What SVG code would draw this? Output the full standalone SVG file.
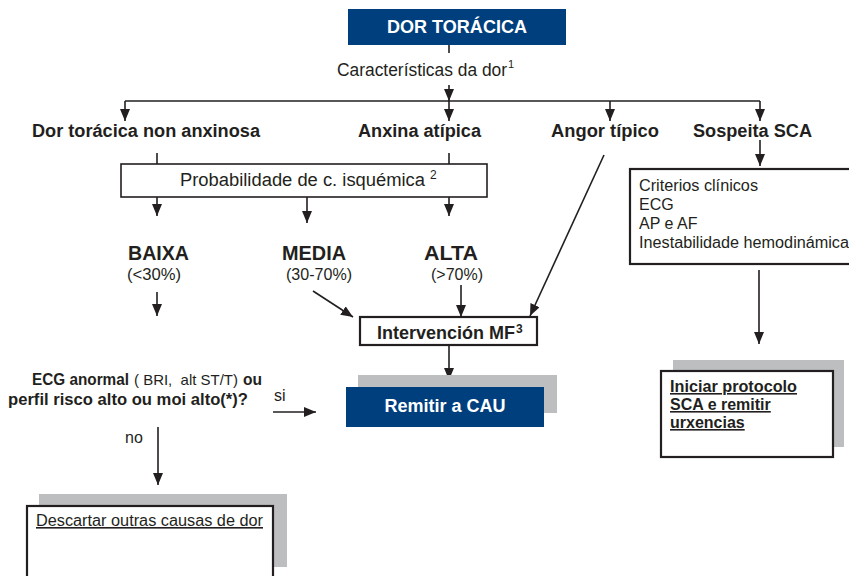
<svg xmlns="http://www.w3.org/2000/svg" width="849" height="576" viewBox="0 0 849 576">
<defs>
<style>
text{font-family:"Liberation Sans",Arial,sans-serif;fill:#231f20;white-space:pre}
.b{font-weight:bold}
.w{fill:#ffffff}
.c{stroke:#231f20;stroke-width:1.6;fill:none}
.box{fill:#ffffff;stroke:#231f20;stroke-width:1.6}
.tbox{fill:#ffffff;stroke:#231f20;stroke-width:2.2}
.blue{fill:#003f7e}
.shadow{fill:#bcbec0}
.u{text-decoration:underline}
</style>
<marker id="a" markerWidth="12" markerHeight="10" refX="12" refY="5" orient="auto" markerUnits="userSpaceOnUse" viewBox="0 0 12 10">
<path d="M0,0 L12,5 L0,10 Z" fill="#231f20"/>
</marker>
</defs>
<rect width="849" height="576" fill="#ffffff"/>

<g id="connectors">
<line class="c" x1="449" y1="45" x2="449" y2="53"/>
<line class="c" x1="449" y1="85" x2="449" y2="101" marker-end="url(#a)"/>
<line class="c" x1="125" y1="101" x2="760" y2="101"/>
<line class="c" x1="125" y1="101" x2="125" y2="121" marker-end="url(#a)"/>
<line class="c" x1="449" y1="101" x2="449" y2="121" marker-end="url(#a)"/>
<line class="c" x1="610" y1="101" x2="610" y2="121" marker-end="url(#a)"/>
<line class="c" x1="760" y1="101" x2="760" y2="121" marker-end="url(#a)"/>
<line class="c" x1="157" y1="153" x2="157" y2="164"/>
<line class="c" x1="449" y1="153" x2="449" y2="164"/>
<line class="c" x1="157" y1="197" x2="157" y2="216" marker-end="url(#a)"/>
<line class="c" x1="307" y1="197" x2="307" y2="223" marker-end="url(#a)"/>
<line class="c" x1="449" y1="197" x2="449" y2="216" marker-end="url(#a)"/>
<line class="c" x1="157" y1="292" x2="157" y2="316" marker-end="url(#a)"/>
<line class="c" x1="313" y1="291" x2="353" y2="317" marker-end="url(#a)"/>
<line class="c" x1="461" y1="285" x2="461" y2="317" marker-end="url(#a)"/>
<line class="c" x1="604" y1="155" x2="530" y2="316" marker-end="url(#a)"/>
<line class="c" x1="449" y1="345" x2="449" y2="380" marker-end="url(#a)"/>
<line class="c" x1="273" y1="412" x2="316" y2="412" marker-end="url(#a)"/>
<line class="c" x1="158" y1="427" x2="158" y2="485" marker-end="url(#a)"/>
<line class="c" x1="760" y1="140" x2="760" y2="166" marker-end="url(#a)"/>
<line class="c" x1="759" y1="270" x2="759" y2="344" marker-end="url(#a)"/>
</g>

<g id="n-dor">
<rect class="blue" x="348" y="9" width="218" height="36"/>
<text class="b w" x="457" y="33" font-size="18" text-anchor="middle" textLength="140" lengthAdjust="spacingAndGlyphs">DOR TORÁCICA</text>
</g>

<g id="n-caract">
<text x="337" y="76" font-size="17.5" textLength="170" lengthAdjust="spacingAndGlyphs">Características da dor</text>
<text x="508" y="68" font-size="11">1</text>
</g>

<g id="n-nonanx">
<text class="b" x="32" y="137" font-size="18" textLength="228" lengthAdjust="spacingAndGlyphs">Dor torácica non anxinosa</text>
</g>
<g id="n-atipica">
<text class="b" x="358" y="137" font-size="18" textLength="123" lengthAdjust="spacingAndGlyphs">Anxina atípica</text>
</g>
<g id="n-tipico">
<text class="b" x="551" y="137" font-size="18" textLength="108" lengthAdjust="spacingAndGlyphs">Angor típico</text>
</g>
<g id="n-sca">
<text class="b" x="693" y="137" font-size="18" textLength="119" lengthAdjust="spacingAndGlyphs">Sospeita SCA</text>
</g>

<g id="n-prob">
<rect class="box" x="121" y="164" width="366" height="33"/>
<text x="180" y="186" font-size="18" textLength="245" lengthAdjust="spacingAndGlyphs">Probabilidade de c. isquémica</text>
<text x="430" y="179" font-size="12">2</text>
</g>

<g id="n-baixa">
<text class="b" x="128" y="260" font-size="20" textLength="61" lengthAdjust="spacingAndGlyphs">BAIXA</text>
<text x="127" y="280" font-size="16" textLength="54" lengthAdjust="spacingAndGlyphs">(&lt;30%)</text>
</g>
<g id="n-media">
<text class="b" x="282" y="260" font-size="20" textLength="64" lengthAdjust="spacingAndGlyphs">MEDIA</text>
<text x="286" y="280" font-size="16" textLength="66" lengthAdjust="spacingAndGlyphs">(30-70%)</text>
</g>
<g id="n-alta">
<text class="b" x="424" y="260" font-size="20" textLength="54" lengthAdjust="spacingAndGlyphs">ALTA</text>
<text x="431" y="280" font-size="16" textLength="52" lengthAdjust="spacingAndGlyphs">(&gt;70%)</text>
</g>

<g id="n-interv">
<rect class="tbox" x="360" y="317" width="177" height="28"/>
<text class="b" x="377" y="339" font-size="18" textLength="138" lengthAdjust="spacingAndGlyphs">Intervención MF</text>
<text class="b" x="516" y="333" font-size="12">3</text>
</g>

<g id="n-remitir">
<rect class="shadow" x="358" y="375" width="199" height="38"/>
<rect class="blue" x="346" y="387" width="198" height="40"/>
<text class="b w" x="445" y="412" font-size="18" text-anchor="middle" textLength="121" lengthAdjust="spacingAndGlyphs">Remitir a CAU</text>
</g>

<g id="n-ecg">
<text x="32" y="385" font-size="17" class="b" textLength="97" lengthAdjust="spacingAndGlyphs">ECG anormal</text>
<text x="134" y="385" font-size="15" textLength="104" lengthAdjust="spacingAndGlyphs">( BRI,  alt ST/T)</text>
<text x="243" y="385" font-size="17" class="b" textLength="19" lengthAdjust="spacingAndGlyphs">ou</text>
<text x="8" y="405" font-size="17" class="b" textLength="240" lengthAdjust="spacingAndGlyphs">perfil risco alto ou moi alto(*)?</text>
</g>

<g id="l-si">
<text x="274" y="401" font-size="16">si</text>
</g>
<g id="l-no">
<text x="125" y="443" font-size="16">no</text>
</g>

<g id="n-descartar">
<rect class="shadow" x="39" y="494" width="248" height="73"/>
<rect class="tbox" x="27" y="506" width="246" height="80"/>
<text class="u" x="36" y="526" font-size="16" textLength="227" lengthAdjust="spacingAndGlyphs">Descartar outras causas de dor</text>
</g>

<g id="n-criterios">
<rect class="tbox" x="630" y="169" width="225" height="95"/>
<text x="639" y="191" font-size="16" textLength="119" lengthAdjust="spacingAndGlyphs">Criterios clínicos</text>
<text x="639" y="210" font-size="16">ECG</text>
<text x="639" y="229" font-size="16">AP e AF</text>
<text x="639" y="248" font-size="16" textLength="210" lengthAdjust="spacingAndGlyphs">Inestabilidade hemodinámica</text>
</g>

<g id="n-iniciar">
<rect class="shadow" x="673" y="360" width="171" height="87"/>
<rect class="tbox" x="661" y="371" width="172" height="86"/>
<text class="b u" x="670" y="392" font-size="16" textLength="127" lengthAdjust="spacingAndGlyphs">Iniciar protocolo</text>
<text class="b u" x="670" y="410" font-size="16">SCA e remitir</text>
<text class="b u" x="670" y="428" font-size="16">urxencias</text>
</g>
</svg>
